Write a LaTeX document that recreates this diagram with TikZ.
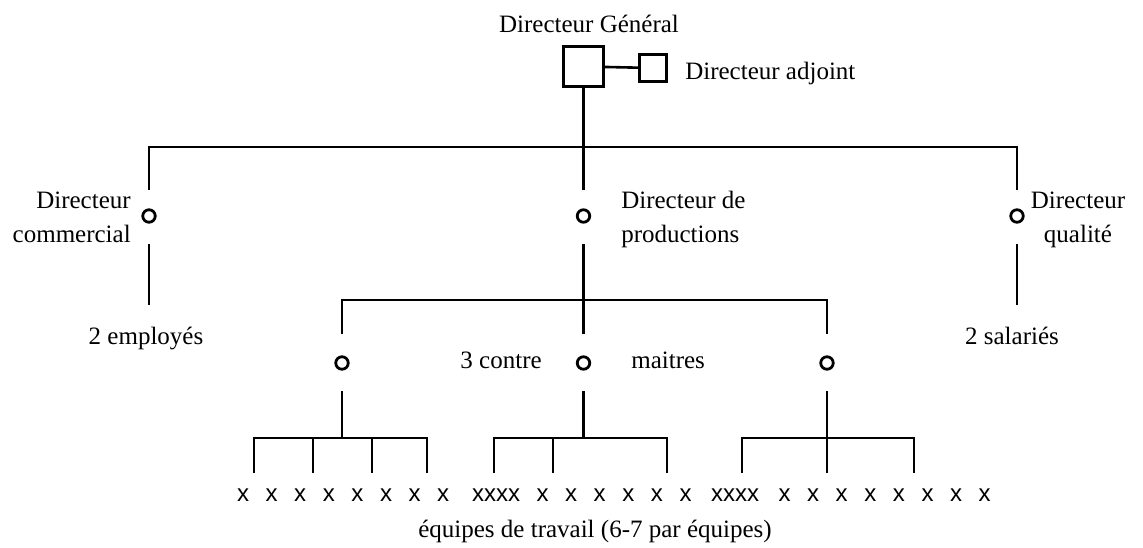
\documentclass[tikz,border=0pt]{standalone}
\usepackage{fontspec}
\setmainfont{Liberation Serif}
\newfontfamily\sansx{Liberation Sans}
\begin{document}
\begin{tikzpicture}[x=1pt,y=-1pt,line width=2.6pt,
  lbl/.style={inner sep=0pt,font=\fontsize{25}{30}\selectfont},
  xmark/.style={inner sep=0pt,font=\sansx\fontsize{24}{28}\selectfont},
  bigsq/.style={draw,minimum size=40pt,inner sep=0pt},
  smsq/.style={draw,minimum size=27pt,inner sep=0pt},
  ring/.style={draw,circle,minimum size=12.5pt,inner sep=0pt,line width=2.8pt},
  dngap/.style={shorten <=20.5pt},
]
\useasboundingbox (0,0) rectangle (1143,548);
% top
\node[lbl,anchor=base] (tdg) at (589,33) {Directeur Général};
\node[bigsq] (dg) at (583.5,66.5) {};
\node[smsq] (da) at (653,68) {};
\node[lbl,anchor=base west] (tda) at (684,80) {Directeur adjoint};
\draw (dg) -- (da);
% level 1
\coordinate (j0) at (583.5,147);
\coordinate (jl) at (149,147);
\coordinate (jr) at (1017,147);
\node[ring] (cl) at (149,216) {};
\node[ring] (cm) at (583.5,216) {};
\node[ring] (cr) at (1017,216) {};
\draw (dg) -- (j0);
\draw[shorten <=18.5pt,shorten >=18.5pt] (cl) -- (jl) -- (jr) -- (cr);
\draw[shorten >=18.5pt] (j0) -- (cm);
\node[lbl,anchor=base east] (tc1) at (132,208) {Directeur};
\node[lbl,anchor=base east] (tc2) at (132,242) {commercial};
\node[lbl,anchor=base west] (tp1) at (620,208) {Directeur de};
\node[lbl,anchor=base west] (tp2) at (620,242) {productions};
\node[lbl,anchor=base] (tq1) at (1078,209) {Directeur};
\node[lbl,anchor=base] (tq2) at (1078,242) {qualité};
% employees
\coordinate (el) at (149,305);
\coordinate (er) at (1017,305);
\draw[dngap] (cl) -- (el);
\draw[dngap] (cr) -- (er);
\node[lbl,anchor=base] (temp) at (146,344) {2 employés};
\node[lbl,anchor=base] (tsal) at (1012,344) {2 salariés};
% level 2
\coordinate (j1) at (583.5,300);
\coordinate (ja) at (342,300);
\coordinate (jc) at (827,300);
\node[ring] (ca) at (342,363) {};
\node[ring] (cb) at (583.5,363) {};
\node[ring] (cc) at (827,363) {};
\draw[dngap] (cm) -- (j1);
\draw[shorten <=21.5pt,shorten >=21.5pt] (ca) -- (ja) -- (jc) -- (cc);
\draw[shorten >=21.5pt] (j1) -- (cb);
\node[lbl,anchor=base east] (tcon) at (543,368) {3 contre};
\node[lbl,anchor=base west] (tmai) at (630,368) {maitres};
% team bars
\coordinate (s1) at (342,438);
\coordinate (s2) at (583.5,438);
\coordinate (s3) at (827,438);
\draw[dngap] (ca) -- (s1);
\draw[dngap] (cb) -- (s2);
\draw[dngap] (cc) -- (s3);
\foreach \n/\x in {a/254,b/313,c/372,d/427,e/494,f/553,g/667,h/742,i/827,k/914}{
  \coordinate (t\n) at (\x,438);
  \coordinate (b\n) at (\x,473);
}
\draw (ba) -- (ta) -- (td) -- (bd);
\draw (tb) -- (bb);
\draw (tc) -- (bc);
\draw (be) -- (te) -- (tg) -- (bg);
\draw (tf) -- (bf);
\draw (bh) -- (th) -- (tk) -- (bk);
\draw (ti) -- (bi);
% x row
\foreach \i in {0,...,7}{\node[xmark] (xa\i) at (243+28.6*\i,495) {x};}
\node[xmark] (xg1) at (496,495) {xxxx};
\foreach \i in {0,...,5}{\node[xmark] (xb\i) at (542.5+28.6*\i,495) {x};}
\node[xmark] (xg2) at (735,495) {xxxx};
\foreach \i in {0,...,7}{\node[xmark] (xc\i) at (784.5+28.6*\i,495) {x};}
\node[lbl,anchor=base] (teq) at (595,537) {équipes de travail (6-7 par équipes)};
\end{tikzpicture}
\end{document}
